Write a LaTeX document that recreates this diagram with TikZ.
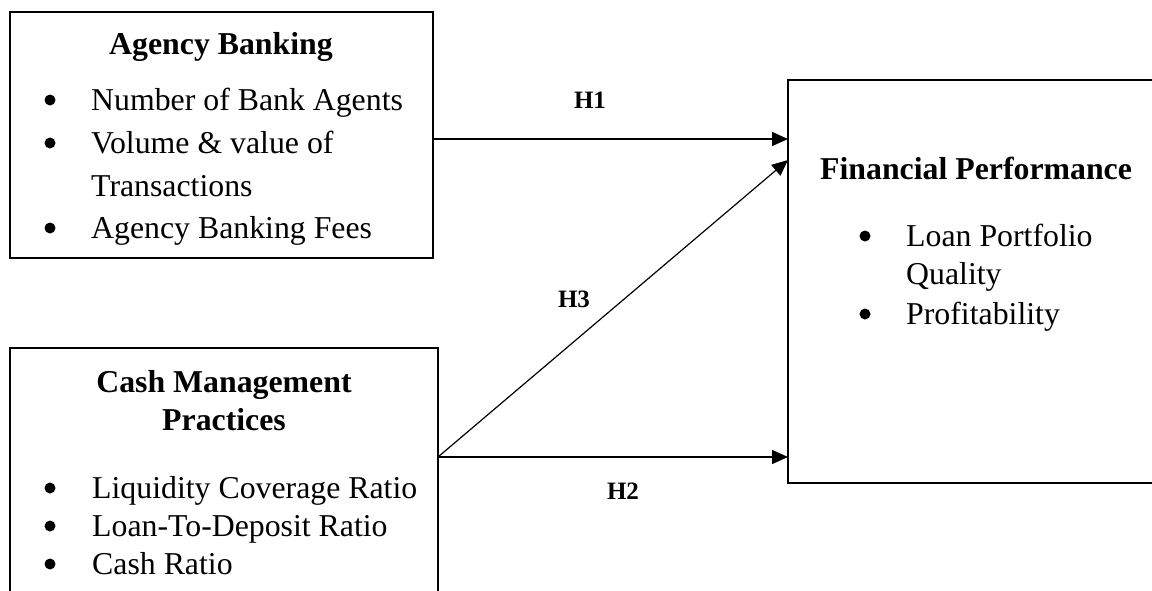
\documentclass[tikz,border=0pt]{standalone}
\usepackage{fontspec}
\setmainfont{Liberation Serif}
\usetikzlibrary{arrows.meta}
\begin{document}
\begin{tikzpicture}[x=1pt,y=-1pt,
  box/.style={draw, line width=2pt, rectangle, inner sep=0pt},
  title/.style={font=\fontsize{31.8}{36}\selectfont\bfseries, anchor=base, inner sep=0pt},
  titlew/.style={font=\fontsize{31.8}{36}\selectfont\bfseries, anchor=base west, inner sep=0pt},
  item/.style={font=\fontsize{31.8}{36}\selectfont, anchor=base west, inner sep=0pt},
  bul/.style={circle, fill, inner sep=0pt, minimum size=11pt},
  hyp/.style={font=\fontsize{25}{30}\selectfont\bfseries, anchor=base, inner sep=0pt},
  link/.style={line width=1.5pt, -{Triangle[length=16pt,width=14pt]}}]
\useasboundingbox (0,0) rectangle (1152,590);
\clip (0,0) rectangle (1152,590);

% boxes
\node[box, minimum width=423pt, minimum height=246pt] (A) at (221.5,135) {};
\node[box, minimum width=428pt, minimum height=292pt] (C) at (224,494) {};
\node[box, minimum width=384pt, minimum height=403pt] (F) at (980,281.5) {};

% Agency Banking
\node[title] (At) at (221,54) {Agency Banking};
\node[bul] (Ab1) at (50,100) {};
\node[item] (Ai1) at (91,110) {Number of Bank Agents};
\node[bul] (Ab2) at (50,143) {};
\node[item] (Ai2) at (91,153) {Volume \& value of};
\node[item] (Ai3) at (91,196) {Transactions};
\node[bul] (Ab3) at (50,228) {};
\node[item] (Ai4) at (91,238) {Agency Banking Fees};

% Cash Management Practices
\node[title] (Ct1) at (224,392) {Cash Management};
\node[title] (Ct2) at (224,430) {Practices};
\node[bul] (Cb1) at (50,488) {};
\node[item] (Ci1) at (92,498) {Liquidity Coverage Ratio};
\node[bul] (Cb2) at (50,526) {};
\node[item] (Ci2) at (92,536) {Loan-To-Deposit Ratio};
\node[bul] (Cb3) at (50,564) {};
\node[item] (Ci3) at (92,574) {Cash Ratio};

% Financial Performance
\node[titlew] (Ft) at (820,179) {Financial Performance};
\node[bul] (Fb1) at (865,236) {};
\node[item] (Fi1) at (906,246) {Loan Portfolio};
\node[item] (Fi2) at (906,284) {Quality};
\node[bul] (Fb2) at (865,314) {};
\node[item] (Fi3) at (906,324) {Profitability};

% connectors
\coordinate (a1) at (433,139);
\coordinate (f1) at (788,139);
\coordinate (c1) at (438,457);
\coordinate (f3) at (788,160);
\coordinate (f2) at (788,457);
\draw[link] (a1) -- (f1);
\draw[link, line width=1.2pt] (c1) -- (f3);
\draw[link] (c1) -- (f2);

\node[hyp] (H1) at (590,108) {H1};
\node[hyp] (H3) at (574,307) {H3};
\node[hyp] (H2) at (623,499) {H2};
\end{tikzpicture}
\end{document}
